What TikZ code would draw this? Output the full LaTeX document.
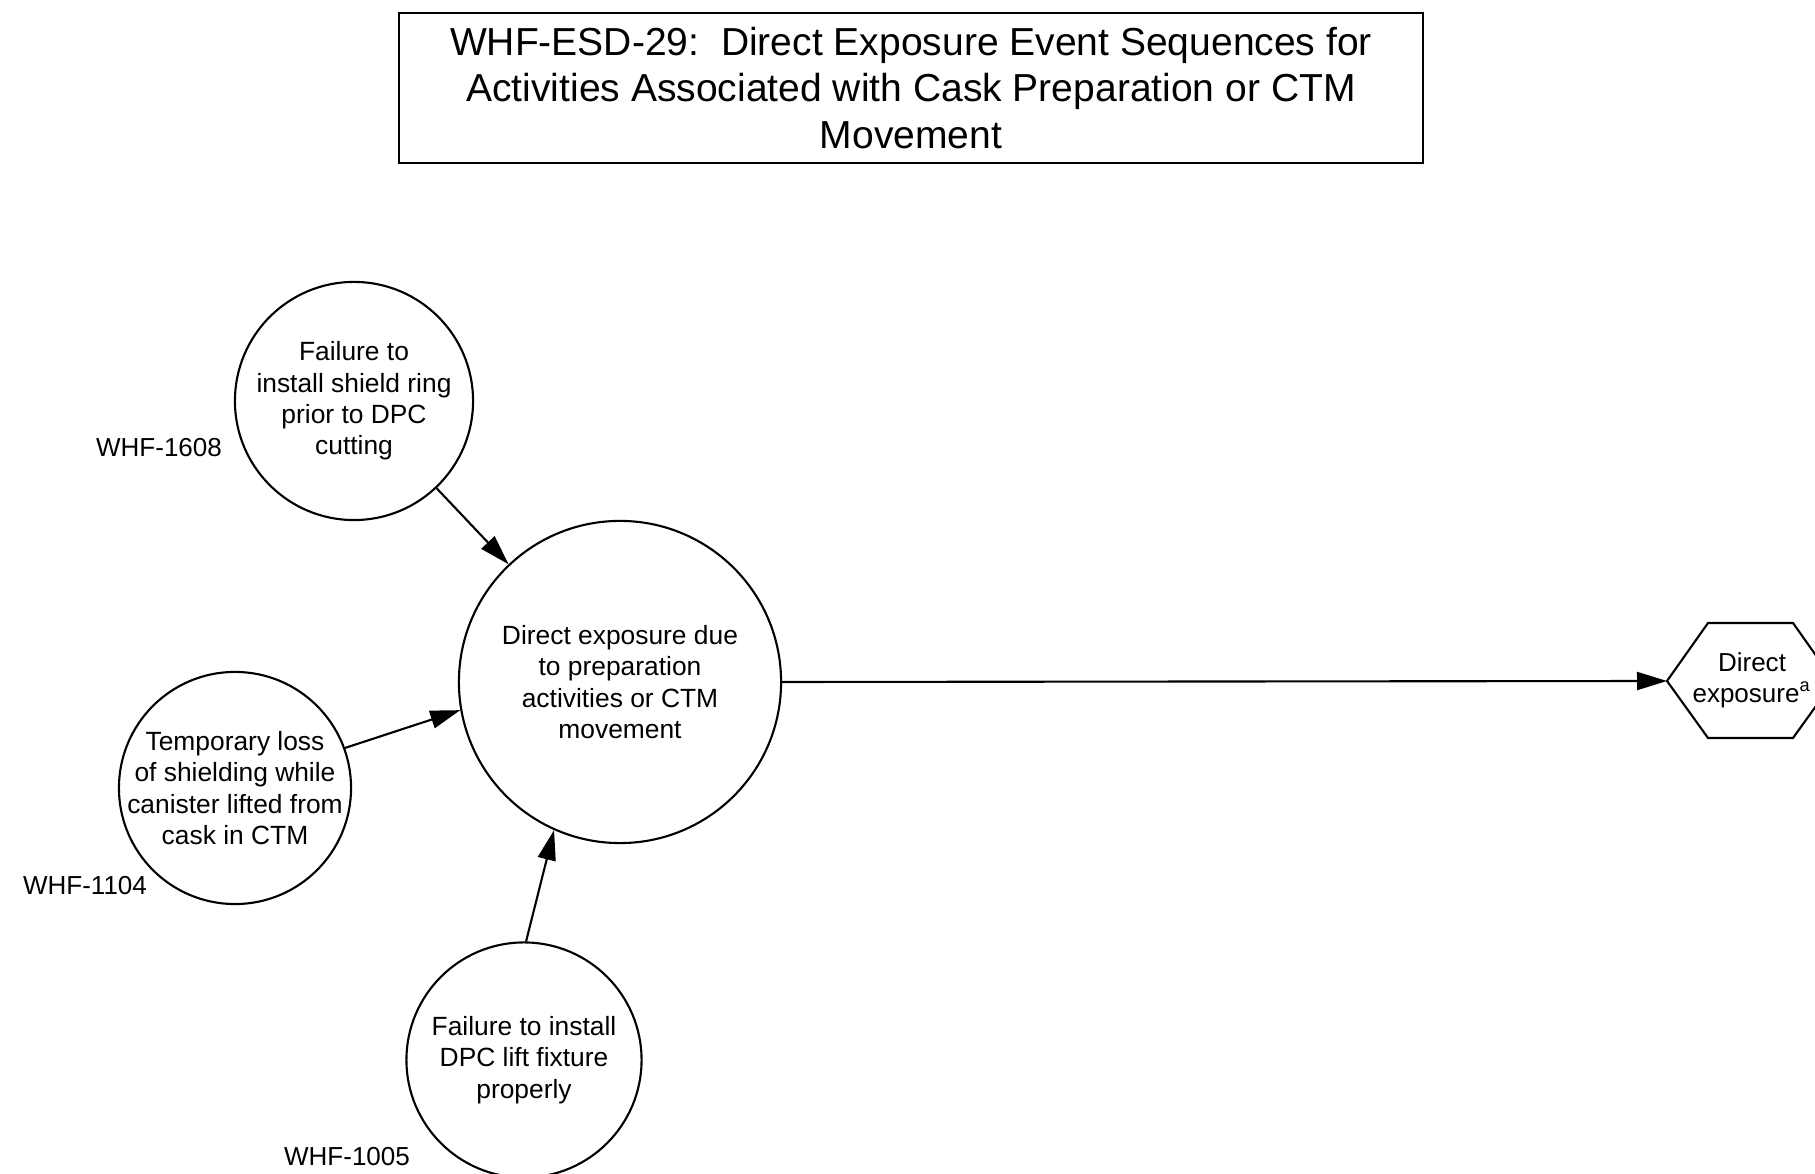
\documentclass[tikz,border=0pt]{standalone}
\usepackage{fontspec}
\setmainfont{Liberation Sans}
\usetikzlibrary{arrows.meta}

\begin{document}
\begin{tikzpicture}[x=0.01cm, y=-0.01cm]

\tikzset{ereignis/.style={draw, circle, line width=0.6pt, inner sep=0pt, align=center, font=\fontsize{7.5}{8.9}\selectfont}}
\tikzset{pfeil/.style={-{Triangle[length=0.3cm, width=0.18cm]}, line width=0.6pt}}
\tikzset{kennung/.style={font=\fontsize{7.4}{8.9}\selectfont}}

% Seitenrahmen festlegen
\useasboundingbox (0, 0) rectangle (1815, 1174);
\clip (0, 0) rectangle (1815, 1174);

% 1. Titel im Rechteckrahmen
\node[draw, line width=0.6pt, minimum width=10.23cm, minimum height=1.5cm, align=center, font=\fontsize{11.1}{13.2}\selectfont] (titel) at (911, 88)
  {WHF-ESD-29:\ \ Direct Exposure Event Sequences for\\Activities Associated with Cask Preparation or CTM\\Movement};

% 2. Zentrales Ereignis
\node[ereignis, minimum size=3.22cm] (haupt) at (620, 682) {Direct exposure due\\to preparation\\activities or CTM\\movement};

% 3. Ausloesende Ereignisse
\node[ereignis, minimum size=2.38cm] (e1608) at (354, 401) {Failure to\\install shield ring\\prior to DPC\\cutting};
\node[ereignis, minimum size=2.32cm, inner sep=-0.1cm] (e1104) at (235, 788) {Temporary loss\\of shielding while\\canister lifted from\\cask in CTM};
\node[ereignis, minimum size=2.35cm] (e1005) at (524, 1060) {Failure to install\\DPC lift fixture\\properly};

% Kennungen
\node[kennung] (k1608) at (159, 448) {WHF-1608};
\node[kennung] (k1104) at (85, 886) {WHF-1104};
\node[kennung] (k1005) at (347, 1157) {WHF-1005};

% 4. Endzustand als Sechseck
\draw[line width=0.6pt] (1667, 681) -- (1708, 623) -- (1793, 623) -- (1834, 681) -- (1793, 738) -- (1708, 738) -- cycle;
\coordinate (endL) at (1667, 681);
\node[kennung, align=center] (ende) at (1752, 680) {Direct\\exposure\textsuperscript{a}};

% 5. Verbindungen
\draw[pfeil] (e1608) -- (haupt);
\draw[pfeil] (e1104.20) -- (haupt.190);
\draw[pfeil] (e1005.89) -- (haupt.246);
\draw[pfeil] (haupt.east) -- (endL);

\end{tikzpicture}
\end{document}
